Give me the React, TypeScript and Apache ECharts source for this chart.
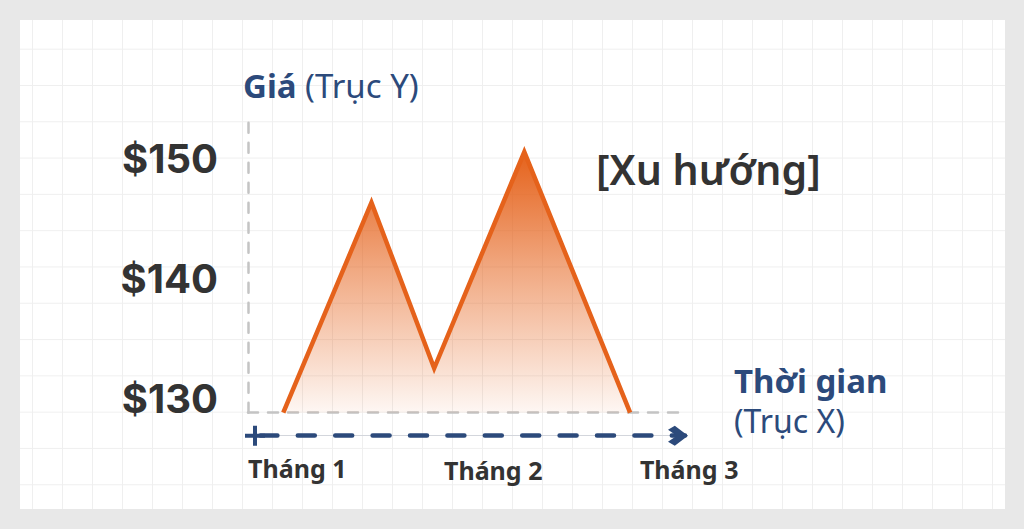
import { useRef, useEffect } from 'react'
import * as echarts from 'echarts'

// price path, x in months from the first label (0 = Tháng 1)
const pointMonths = [0.18, 0.63, 0.95, 1.41, 1.95]
const pointPrices = [128.8, 146.3, 132.5, 150.5, 128.8]

const monthTicks = [0, 1, 2]
const monthLabels = ['Tháng 1', 'Tháng 2', 'Tháng 3']
const priceTicks = [130, 140, 150]

const NAVY = '#2c4a7b'
const DARK = '#333333'
const GREY = '#c4c4c4'
const ORANGE = '#e5621b'

const PLUS = 'path://M40,0H60V40H100V60H60V100H40V60H0V40H40Z'
const CHEVRON = 'path://M50,0L100,66L80,100L50,56L20,100L0,66Z'

export default function App() {
  const chartRef = useRef<HTMLDivElement>(null)

  useEffect(() => {
    if (!chartRef.current) return
    const chart = echarts.init(chartRef.current, undefined, { renderer: 'svg' })

    const xRange = { type: 'value', min: 0, max: 2.23, position: 'bottom' }
    const monthStyle = { fontFamily: 'Noto Sans', fontSize: 25, fontWeight: 'bold', color: DARK, lineHeight: 25 }

    chart.setOption({
      animation: false,
      backgroundColor: 'transparent',
      grid: { left: 248, right: 339, top: 122, bottom: 116.3 },
      title: {
        text: '[Xu hướng]',
        left: 591,
        top: 143,
        textStyle: { fontFamily: 'Noto Sans', fontSize: 41, fontWeight: 600, color: DARK, lineHeight: 41 },
      },
      xAxis: [
        {
          ...xRange,
          name: '{b|Thời gian}\n{r|(Trục X)}',
          nameLocation: 'end',
          nameGap: 49,
          nameTextStyle: {
            align: 'left',
            verticalAlign: 'middle',
            padding: [0, 0, 24, 0],
            rich: {
              b: { fontFamily: 'Noto Sans', fontSize: 33, fontWeight: 'bold', color: NAVY, lineHeight: 40 },
              r: { fontFamily: 'Noto Sans', fontSize: 32, fontWeight: 'normal', color: NAVY, lineHeight: 40 },
            },
          },
          axisLine: { lineStyle: { color: GREY, width: 2.5, type: [10, 10] } },
          axisTick: { show: false },
          splitLine: { show: false },
          axisLabel: {
            customValues: monthTicks,
            margin: 43,
            align: 'left',
            verticalAlign: 'top',
            formatter: (v: number) => {
              const i = monthTicks.indexOf(Math.round(v))
              return i < 0 ? '' : `{m${i}|${monthLabels[i]}}`
            },
            rich: {
              m0: { ...monthStyle },
              m1: { ...monthStyle, padding: [3, 0, 0, 0] },
              m2: { ...monthStyle, padding: [2, 0, 0, 0] },
            },
          },
        },
        {
          ...xRange,
          offset: 23,
          axisLine: { lineStyle: { color: '#d3d6dc', width: 1 } },
          axisTick: { show: false },
          axisLabel: { show: false },
          splitLine: { show: false },
        },
        {
          ...xRange,
          offset: 23,
          axisLine: {
            symbol: [PLUS, CHEVRON],
            symbolSize: [22, 20],
            symbolOffset: [7, -7],
            lineStyle: { color: NAVY, width: 4.5, type: [17, 20.4], dashOffset: 24.8 },
          },
          axisTick: { show: false },
          axisLabel: { show: false },
          splitLine: { show: false },
        },
      ],
      yAxis: {
        type: 'value',
        min: 128.8,
        max: 153,
        name: '{b|Giá}{r| (Trục Y)}',
        nameLocation: 'end',
        nameGap: 20,
        nameTextStyle: {
          align: 'left',
          verticalAlign: 'bottom',
          padding: [0, 0, 0, -5],
          rich: {
            b: { fontFamily: 'Noto Sans', fontSize: 33, fontWeight: 'bold', color: NAVY, lineHeight: 33 },
            r: { fontFamily: 'Noto Sans', fontSize: 33, fontWeight: 'normal', color: NAVY, lineHeight: 33 },
          },
        },
        axisLine: { show: true, lineStyle: { color: GREY, width: 2.5, type: [10, 10] } },
        axisTick: { show: false },
        splitLine: { show: false },
        axisLabel: {
          customValues: priceTicks,
          margin: 30,
          fontFamily: 'Inter',
          fontSize: 40,
          fontWeight: 'bold',
          color: DARK,
          formatter: (v: number) => `$${v}`,
        },
      },
      series: [
        {
          type: 'line',
          xAxisIndex: 0,
          data: pointMonths.map((m, i) => [m, pointPrices[i]]),
          showSymbol: false,
          symbol: 'none',
          lineStyle: { color: ORANGE, width: 4.5, join: 'miter' },
          areaStyle: {
            origin: 'start',
            opacity: 1,
            color: new echarts.graphic.LinearGradient(0, 0, 0, 1, [
              { offset: 0, color: 'rgba(229, 98, 27, 1)' },
              { offset: 0.45, color: 'rgba(229, 98, 27, 0.55)' },
              { offset: 1, color: 'rgba(229, 98, 27, 0.05)' },
            ]),
          },
          z: 3,
        },
      ],
    })

    return () => chart.dispose()
  }, [])

  return (
    <div style={{ position: 'fixed', left: 0, top: 0, width: 1024, height: 529, background: '#e8e8e8', overflow: 'hidden' }}>
      <div style={{
        position: 'absolute', left: 20, top: 20, width: 985, height: 489,
        backgroundColor: '#ffffff',
        backgroundImage: 'linear-gradient(to right, #efefef 1px, transparent 1px), linear-gradient(to bottom, #efefef 1px, transparent 1px)',
        backgroundSize: '30px 36.3px',
        backgroundPosition: '12px 28.7px',
      }} />
      <div ref={chartRef} style={{ position: 'absolute', left: 0, top: 0, width: 1024, height: 529 }} />
    </div>
  )
}
